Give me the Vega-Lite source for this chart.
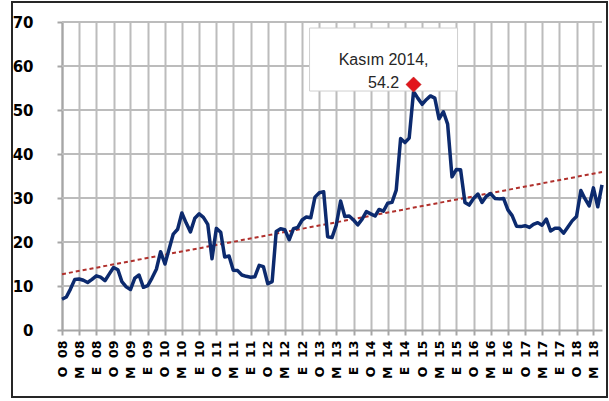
{
  "$schema": "https://vega.github.io/schema/vega-lite/v6.json",
  "width": 595,
  "height": 395,
  "autosize": {"type": "none"},
  "padding": {"left": 12, "top": 2, "right": 2, "bottom": 4},
  "background": "white",
  "config": {"view": {"stroke": "#262626", "strokeWidth": 2}, "font": "DejaVu Sans"},
  "resolve": {"axis": {"x": "independent", "y": "independent"}},
  "data": {
    "format": {"parse": {"date": "date"}},
    "values": [
      {"date": "2008-01-01", "v": 7.0}, {"date": "2008-02-01", "v": 7.5}, {"date": "2008-03-01", "v": 9.3}, {"date": "2008-04-01", "v": 11.5}, {"date": "2008-05-01", "v": 11.6}, {"date": "2008-06-01", "v": 11.3}, {"date": "2008-07-01", "v": 10.8}, {"date": "2008-08-01", "v": 11.5}, {"date": "2008-09-01", "v": 12.3}, {"date": "2008-10-01", "v": 12.0}, {"date": "2008-11-01", "v": 11.2}, {"date": "2008-12-01", "v": 12.7},
      {"date": "2009-01-01", "v": 14.2}, {"date": "2009-02-01", "v": 13.7}, {"date": "2009-03-01", "v": 11.0}, {"date": "2009-04-01", "v": 9.8}, {"date": "2009-05-01", "v": 9.2}, {"date": "2009-06-01", "v": 11.8}, {"date": "2009-07-01", "v": 12.5}, {"date": "2009-08-01", "v": 9.7}, {"date": "2009-09-01", "v": 10.1}, {"date": "2009-10-01", "v": 11.8}, {"date": "2009-11-01", "v": 13.8}, {"date": "2009-12-01", "v": 17.8},
      {"date": "2010-01-01", "v": 15.0}, {"date": "2010-02-01", "v": 18.6}, {"date": "2010-03-01", "v": 21.8}, {"date": "2010-04-01", "v": 22.9}, {"date": "2010-05-01", "v": 26.6}, {"date": "2010-06-01", "v": 24.3}, {"date": "2010-07-01", "v": 22.3}, {"date": "2010-08-01", "v": 25.4}, {"date": "2010-09-01", "v": 26.4}, {"date": "2010-10-01", "v": 25.6}, {"date": "2010-11-01", "v": 24.0}, {"date": "2010-12-01", "v": 16.2},
      {"date": "2011-01-01", "v": 23.1}, {"date": "2011-02-01", "v": 22.2}, {"date": "2011-03-01", "v": 16.6}, {"date": "2011-04-01", "v": 16.8}, {"date": "2011-05-01", "v": 13.6}, {"date": "2011-06-01", "v": 13.5}, {"date": "2011-07-01", "v": 12.5}, {"date": "2011-08-01", "v": 12.2}, {"date": "2011-09-01", "v": 12.0}, {"date": "2011-10-01", "v": 12.1}, {"date": "2011-11-01", "v": 14.7}, {"date": "2011-12-01", "v": 14.4},
      {"date": "2012-01-01", "v": 10.5}, {"date": "2012-02-01", "v": 11.0}, {"date": "2012-03-01", "v": 22.4}, {"date": "2012-04-01", "v": 23.0}, {"date": "2012-05-01", "v": 22.8}, {"date": "2012-06-01", "v": 20.5}, {"date": "2012-07-01", "v": 23.0}, {"date": "2012-08-01", "v": 23.3}, {"date": "2012-09-01", "v": 25.0}, {"date": "2012-10-01", "v": 25.7}, {"date": "2012-11-01", "v": 25.5}, {"date": "2012-12-01", "v": 30.2},
      {"date": "2013-01-01", "v": 31.2}, {"date": "2013-02-01", "v": 31.4}, {"date": "2013-03-01", "v": 21.2}, {"date": "2013-04-01", "v": 21.0}, {"date": "2013-05-01", "v": 23.8}, {"date": "2013-06-01", "v": 29.3}, {"date": "2013-07-01", "v": 25.8}, {"date": "2013-08-01", "v": 25.9}, {"date": "2013-09-01", "v": 25.0}, {"date": "2013-10-01", "v": 23.9}, {"date": "2013-11-01", "v": 25.2}, {"date": "2013-12-01", "v": 26.9},
      {"date": "2014-01-01", "v": 26.4}, {"date": "2014-02-01", "v": 25.9}, {"date": "2014-03-01", "v": 27.4}, {"date": "2014-04-01", "v": 27.0}, {"date": "2014-05-01", "v": 28.8}, {"date": "2014-06-01", "v": 29.0}, {"date": "2014-07-01", "v": 31.8}, {"date": "2014-08-01", "v": 43.5}, {"date": "2014-09-01", "v": 42.6}, {"date": "2014-10-01", "v": 43.6}, {"date": "2014-11-01", "v": 54.2}, {"date": "2014-12-01", "v": 52.7},
      {"date": "2015-01-01", "v": 51.3}, {"date": "2015-02-01", "v": 52.4}, {"date": "2015-03-01", "v": 53.2}, {"date": "2015-04-01", "v": 52.7}, {"date": "2015-05-01", "v": 48.0}, {"date": "2015-06-01", "v": 49.6}, {"date": "2015-07-01", "v": 46.8}, {"date": "2015-08-01", "v": 34.8}, {"date": "2015-09-01", "v": 36.5}, {"date": "2015-10-01", "v": 36.4}, {"date": "2015-11-01", "v": 29.0}, {"date": "2015-12-01", "v": 28.4},
      {"date": "2016-01-01", "v": 29.9}, {"date": "2016-02-01", "v": 30.9}, {"date": "2016-03-01", "v": 29.0}, {"date": "2016-04-01", "v": 30.4}, {"date": "2016-05-01", "v": 31.0}, {"date": "2016-06-01", "v": 29.9}, {"date": "2016-07-01", "v": 29.8}, {"date": "2016-08-01", "v": 29.9}, {"date": "2016-09-01", "v": 27.3}, {"date": "2016-10-01", "v": 26.0}, {"date": "2016-11-01", "v": 23.6}, {"date": "2016-12-01", "v": 23.5},
      {"date": "2017-01-01", "v": 23.7}, {"date": "2017-02-01", "v": 23.3}, {"date": "2017-03-01", "v": 24.0}, {"date": "2017-04-01", "v": 24.4}, {"date": "2017-05-01", "v": 23.8}, {"date": "2017-06-01", "v": 25.2}, {"date": "2017-07-01", "v": 22.5}, {"date": "2017-08-01", "v": 23.1}, {"date": "2017-09-01", "v": 23.1}, {"date": "2017-10-01", "v": 22.0}, {"date": "2017-11-01", "v": 23.4}, {"date": "2017-12-01", "v": 24.8},
      {"date": "2018-01-01", "v": 25.8}, {"date": "2018-02-01", "v": 31.7}, {"date": "2018-03-01", "v": 29.9}, {"date": "2018-04-01", "v": 28.2}, {"date": "2018-05-01", "v": 32.3}, {"date": "2018-06-01", "v": 28.0}, {"date": "2018-07-01", "v": 33.0}
    ]
  },
  "layer": [
    {
      "data": {
        "format": {"parse": {"from": "date", "to": "date"}},
        "values": [
          {"h": 10, "from": "2008-01-01", "to": "2018-07-01"},
          {"h": 20, "from": "2008-01-01", "to": "2018-07-01"},
          {"h": 30, "from": "2008-01-01", "to": "2018-07-01"},
          {"h": 40, "from": "2008-01-01", "to": "2018-07-01"},
          {"h": 50, "from": "2008-01-01", "to": "2018-07-01"},
          {"h": 60, "from": "2008-01-01", "to": "2018-07-01"},
          {"h": 70, "from": "2008-01-01", "to": "2018-07-01"}
        ]
      },
      "mark": {"type": "rule", "color": "#bcbcbc", "strokeWidth": 2},
      "encoding": {
        "x": {"field": "from", "type": "temporal", "axis": null},
        "x2": {"field": "to"},
        "y": {"field": "h", "type": "quantitative", "axis": null}
      }
    },
    {
      "transform": [{"regression": "v", "on": "date"}],
      "mark": {"type": "line", "color": "#b0302c", "strokeWidth": 2, "strokeDash": [4, 3]},
      "encoding": {
        "x": {
          "field": "date",
          "type": "temporal",
          "scale": {
            "type": "utc",
            "domain": [{"year": 2008, "month": 1, "date": 1, "utc": true}, {"year": 2018, "month": 7, "date": 1, "utc": true}],
            "range": [50, 590],
            "nice": false
          },
          "axis": {
            "orient": "top",
            "tickCount": {"interval": "month", "step": 4},
            "labels": false,
            "ticks": false,
            "domain": false,
            "grid": true,
            "gridColor": "#bcbcbc",
            "gridWidth": 2,
            "title": null
          }
        },
        "y": {"field": "v", "type": "quantitative", "axis": null}
      }
    },
    {
      "mark": {"type": "line", "color": "#0c2a6e", "strokeWidth": 3.5, "strokeJoin": "round"},
      "encoding": {
        "x": {
          "field": "date",
          "type": "temporal",
          "scale": {
            "type": "utc",
            "domain": [{"year": 2008, "month": 1, "date": 1, "utc": true}, {"year": 2018, "month": 7, "date": 1, "utc": true}],
            "range": [50, 590],
            "nice": false
          },
          "axis": {
            "orient": "bottom",
            "offset": -67,
            "tickCount": {"interval": "month", "step": 4},
            "labelExpr": "(utcmonth(datum.value)==0?'O':utcmonth(datum.value)==4?'M':'E')+'\u00a0 '+utcFormat(datum.value,'%y')",
            "labelAngle": 270,
            "labelAlign": "right",
            "labelBaseline": "middle",
            "labelFont": "DejaVu Sans",
            "labelFontSize": 12.5,
            "labelFontWeight": "bold",
            "labelColor": "black",
            "labelPadding": 5,
            "labelOverlap": false,
            "labelFlush": false,
            "tickSize": 5,
            "tickColor": "#a6a6a6",
            "tickWidth": 2,
            "domainColor": "#a6a6a6",
            "domainWidth": 2,
            "grid": false,
            "title": null
          }
        },
        "y": {
          "field": "v",
          "type": "quantitative",
          "scale": {"domain": [0, 70], "range": [328, 20], "nice": false},
          "axis": {
            "orient": "left",
            "offset": -50,
            "values": [0, 10, 20, 30, 40, 50, 60, 70],
            "labelFont": "DejaVu Sans",
            "labelFontSize": 15,
            "labelFontWeight": "bold",
            "labelColor": "black",
            "labelPadding": 24,
            "tickSize": 5,
            "tickColor": "#a6a6a6",
            "tickWidth": 2,
            "domainColor": "#a6a6a6",
            "domainWidth": 2,
            "grid": false,
            "title": null
          }
        }
      }
    },
    {
      "data": {"format": {"parse": {"date": "date"}}, "values": [{"date": "2014-11-01", "v": 54.2, "label": ["Kasım 2014,", "54.2"]}]},
      "encoding": {
        "x": {"field": "date", "type": "temporal", "axis": null},
        "y": {"field": "v", "type": "quantitative", "axis": null}
      },
      "layer": [
        {
          "mark": {"type": "point", "shape": "M-1,-0.4257H1V0.4257H-1Z", "size": 21904, "filled": true, "fill": "white", "stroke": "#cfcfcf", "strokeWidth": 1, "opacity": 1, "xOffset": -30, "yOffset": -32}
        },
        {
          "mark": {"type": "text", "font": "Liberation Sans", "fontSize": 16, "color": "#262626", "align": "center", "baseline": "middle", "lineHeight": 23, "dx": -30, "dy": -32},
          "encoding": {"text": {"field": "label"}}
        },
        {
          "mark": {"type": "point", "shape": "diamond", "size": 230, "filled": true, "fill": "#e2151b", "stroke": "#b00000", "strokeWidth": 0.5, "opacity": 1, "yOffset": -7}
        }
      ]
    }
  ]
}
